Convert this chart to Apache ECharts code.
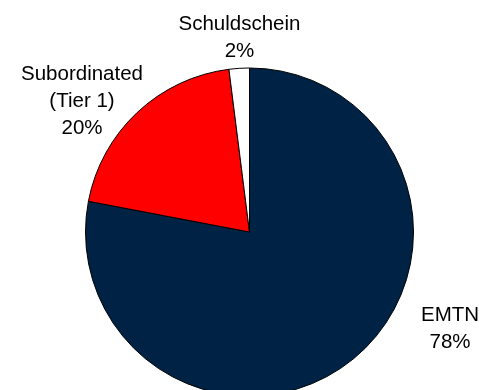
<!DOCTYPE html>
<html>
<head>
<meta charset="utf-8">
<script src="https://cdn.jsdelivr.net/npm/echarts@6/dist/echarts.min.js"></script>
<style>
html,body{margin:0;padding:0;background:#fff;}
#chart{width:479px;height:390px;}
</style>
</head>
<body>
<div id="chart"></div>
<script>
var categories = ['EMTN', 'Subordinated\n(Tier 1)', 'Schuldschein'];
var values = [78, 20, 2];
var colors = ['#002245', '#ff0000', '#ffffff'];
var labelPos = [[450, 329], [82, 101.5], [239.5, 37.5]];

var chart = echarts.init(document.getElementById('chart'), null, {renderer: 'canvas'});
chart.setOption({
  animation: false,
  backgroundColor: '#ffffff',
  series: [{
    type: 'pie',
    center: [249.5, 232],
    radius: 164,
    startAngle: 90,
    clockwise: true,
    avoidLabelOverlap: false,
    data: categories.map(function (c, i) {
      return {name: c, value: values[i], itemStyle: {color: colors[i]}};
    }),
    itemStyle: {borderColor: '#000000', borderWidth: 1},
    label: {
      show: true,
      position: 'outside',
      formatter: function (p) { return p.name + '\n' + p.value + '%'; },
      fontFamily: 'Liberation Sans, Arial, sans-serif',
      fontSize: 20.5,
      lineHeight: 27,
      color: '#000000',
      align: 'center'
    },
    labelLine: {show: false},
    labelLayout: function (p) {
      var pos = labelPos[p.dataIndex];
      return {x: pos[0], y: pos[1], align: 'center', verticalAlign: 'middle'};
    },
    emphasis: {disabled: true}
  }]
});
</script>
</body>
</html>
